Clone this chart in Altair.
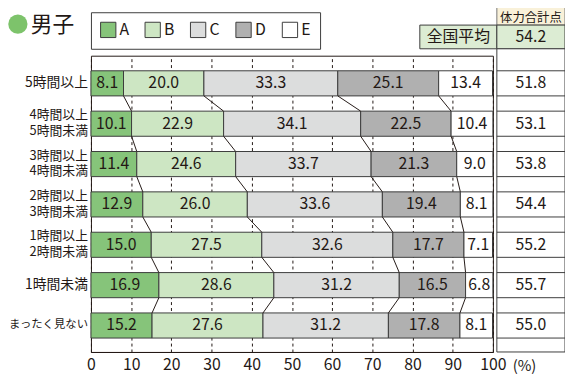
import altair as alt
import pandas as pd

# ---- data ----
categories = ["5時間以上", "4時間以上\n5時間未満", "3時間以上\n4時間未満", "2時間以上\n3時間未満",
              "1時間以上\n2時間未満", "1時間未満", "まったく見ない"]
series = ["A", "B", "C", "D", "E"]
val_A = [8.1, 10.1, 11.4, 12.9, 15.0, 16.9, 15.2]
val_B = [20.0, 22.9, 24.6, 26.0, 27.5, 28.6, 27.6]
val_C = [33.3, 34.1, 33.7, 33.6, 32.6, 31.2, 31.2]
val_D = [25.1, 22.5, 21.3, 19.4, 17.7, 16.5, 17.8]
val_E = [13.4, 10.4, 9.0, 8.1, 7.1, 6.8, 8.1]
scores = [51.8, 53.1, 53.8, 54.4, 55.2, 55.7, 55.0]
national_label = "全国平均"
national_score = 54.2
score_header = "体力合計点"
title_text = "男子"
x_ticks = list(range(0, 101, 10))

FONT = "Noto Sans CJK JP"
TXT = "#231815"
EDGE = "#3c3c3c"
colors = ["#86c47a", "#cde6c3", "#dcdddd", "#b0b0b0", "#ffffff"]

H = 0.311  # half bar thickness in row units

# ---- build tables ----
vals = [val_A, val_B, val_C, val_D, val_E]
bar_rows = []
cums = []
for i in range(len(categories)):
    cum = 0.0
    row_cum = []
    for k, s in enumerate(series):
        v = vals[k][i]
        bar_rows.append(dict(idx=i, series=s, x0=cum, x1=cum + v, xm=cum + v / 2,
                             label=f"{v:.1f}", y0=i - H, y1=i + H))
        cum += v
        row_cum.append(cum)
    cums.append(row_cum)
bars = pd.DataFrame(bar_rows)

link_rows = []
for i in range(len(categories) - 1):
    for k in range(4):
        link_rows.append(dict(xa=cums[i][k], ya=i + H, xb=cums[i + 1][k], yb=i + 1 - H))
links = pd.DataFrame(link_rows)

single_rows, first_rows, second_rows = [], [], []
for i, c in enumerate(categories):
    parts = c.split("\n")
    if len(parts) == 1:
        single_rows.append(dict(idx=i, t=c, fs=11.5 if len(c) > 6 else 14))
    else:
        first_rows.append(dict(idx=i, t=parts[0]))
        second_rows.append(dict(idx=i, t=parts[1]))

score_df = pd.DataFrame(dict(idx=list(range(len(categories))),
                             score=[f"{s:.1f}" for s in scores]))
edge_df = pd.DataFrame(dict(yy=[i - H for i in range(len(categories))] +
                              [i + H for i in range(len(categories))]))

xscale = alt.Scale(domain=[0, 100], nice=False, zero=False)
yscale = alt.Scale(domain=[-0.685, 6.656], reverse=True, nice=False, zero=False)
xaxis = alt.Axis(values=x_ticks, title=None, grid=True, gridDash=[3, 3], gridColor=TXT,
                 gridWidth=1, ticks=False, domainColor=TXT, domainWidth=1,
                 labelFontSize=16, labelFont=FONT, labelColor=TXT, labelPadding=5,
                 labelFlush=False)

bar_layer = alt.Chart(bars).mark_bar(stroke=EDGE, strokeWidth=1).encode(
    x=alt.X("x0:Q", scale=xscale, axis=xaxis),
    x2="x1:Q",
    y=alt.Y("y0:Q", scale=yscale, axis=None),
    y2="y1:Q",
    color=alt.Color("series:N", scale=alt.Scale(domain=series, range=colors),
                    legend=alt.Legend(title=None, orient="none", legendX=0, legendY=-44,
                                      direction="horizontal", symbolType="square",
                                      symbolSize=240, symbolStrokeColor=EDGE,
                                      symbolStrokeWidth=1, symbolOpacity=1,
                                      labelFontSize=16, labelFont=FONT, labelColor=TXT,
                                      labelOffset=3, columnPadding=13, padding=9,
                                      strokeColor=EDGE, fillColor="white")),
)

bar_text = alt.Chart(bars).mark_text(fontSize=16, font=FONT, color=TXT, baseline="middle").encode(
    x=alt.X("xm:Q", scale=xscale, axis=xaxis),
    y=alt.Y("idx:Q", scale=yscale, axis=None),
    text="label:N",
)

link_layer = alt.Chart(links).mark_rule(color=TXT, strokeWidth=1).encode(
    x=alt.X("xa:Q", scale=xscale, axis=xaxis),
    x2="xb:Q",
    y=alt.Y("ya:Q", scale=yscale, axis=None),
    y2="yb:Q",
)

cat_single = alt.Chart(pd.DataFrame(single_rows)).mark_text(
    font=FONT, color=TXT, align="right", baseline="middle").encode(
    x=alt.value(-3),
    y=alt.Y("idx:Q", scale=yscale, axis=None),
    size=alt.Size("fs:Q", scale=None, legend=None),
    text="t:N",
)
cat_first = alt.Chart(pd.DataFrame(first_rows)).mark_text(
    font=FONT, fontSize=13, color=TXT, align="right", baseline="middle", dy=-8.5).encode(
    x=alt.value(-3), y=alt.Y("idx:Q", scale=yscale, axis=None), text="t:N")
cat_second = alt.Chart(pd.DataFrame(second_rows)).mark_text(
    font=FONT, fontSize=13, color=TXT, align="right", baseline="middle", dy=7.5).encode(
    x=alt.value(-3), y=alt.Y("idx:Q", scale=yscale, axis=None), text="t:N")

pct_text = alt.Chart(pd.DataFrame(dict(t=["(%)"]))).mark_text(
    fontSize=15, font=FONT, color=TXT, align="left", baseline="middle").encode(
    x=alt.value(427), y=alt.value(314), text="t:N")

# title
title_df = pd.DataFrame(dict(t=[title_text]))
title_dot = alt.Chart(title_df).mark_point(filled=True, shape="circle", size=380,
                                           color="#7dc36b", opacity=1).encode(
    x=alt.value(-74), y=alt.value(-32))
title_txt = alt.Chart(title_df).mark_text(fontSize=22, font=FONT, color=TXT, align="left",
                                          baseline="middle").encode(
    x=alt.value(-61), y=alt.value(-31), text="t:N")

# score table
TL, TR = 411, 480
head_df = pd.DataFrame(dict(t=[score_header]))
head_rect = alt.Chart(head_df).mark_rect(fill="#f9f1d9", stroke="#777777", strokeWidth=1).encode(
    x=alt.value(TL), x2=alt.value(TR), y=alt.value(-56), y2=alt.value(-31))
head_txt = alt.Chart(head_df).mark_text(fontSize=12.5, font=FONT, color=TXT, baseline="middle").encode(
    x=alt.value((TL + TR) / 2), y=alt.value(-38), text="t:N")

nat_df = pd.DataFrame(dict(lab=[national_label], val=[f"{national_score:.1f}"]))
nat_rect1 = alt.Chart(nat_df).mark_rect(fill="#dcecd3", stroke=EDGE, strokeWidth=1).encode(
    x=alt.value(333), x2=alt.value(TL), y=alt.value(-31), y2=alt.value(-7))
nat_rect2 = alt.Chart(nat_df).mark_rect(fill="#dcecd3", stroke=EDGE, strokeWidth=1).encode(
    x=alt.value(TL), x2=alt.value(TR), y=alt.value(-31), y2=alt.value(-7))
nat_txt1 = alt.Chart(nat_df).mark_text(fontSize=16, font=FONT, color=TXT, baseline="middle").encode(
    x=alt.value(372), y=alt.value(-19), text="lab:N")
nat_txt2 = alt.Chart(nat_df).mark_text(fontSize=16, font=FONT, color=TXT, baseline="middle").encode(
    x=alt.value((TL + TR) / 2), y=alt.value(-19), text="val:N")

col_rect = alt.Chart(nat_df).mark_rect(fill="white", stroke=EDGE, strokeWidth=1).encode(
    x=alt.value(TL), x2=alt.value(TR), y=alt.value(-7), y2=alt.value(300))
row_lines = alt.Chart(edge_df).mark_rule(color=EDGE, strokeWidth=1).encode(
    x=alt.value(TL), x2=alt.value(TR), y=alt.Y("yy:Q", scale=yscale, axis=None))
score_txt = alt.Chart(score_df).mark_text(fontSize=16, font=FONT, color=TXT, baseline="middle").encode(
    x=alt.value((TL + TR) / 2), y=alt.Y("idx:Q", scale=yscale, axis=None), text="score:N")

chart = alt.layer(
    bar_layer, link_layer, bar_text, cat_single, cat_first, cat_second, pct_text,
    title_dot, title_txt,
    head_rect, head_txt, nat_rect1, nat_rect2, nat_txt1, nat_txt2,
    col_rect, row_lines, score_txt,
).properties(
    width=407, height=300,
    autosize=alt.AutoSizeParams(type="none"),
    padding={"left": 84, "top": 46, "right": 73, "bottom": 20},
).configure_view(stroke=TXT, strokeWidth=1)

chart.save("out.html", embed_options={"renderer": "svg", "actions": False})
